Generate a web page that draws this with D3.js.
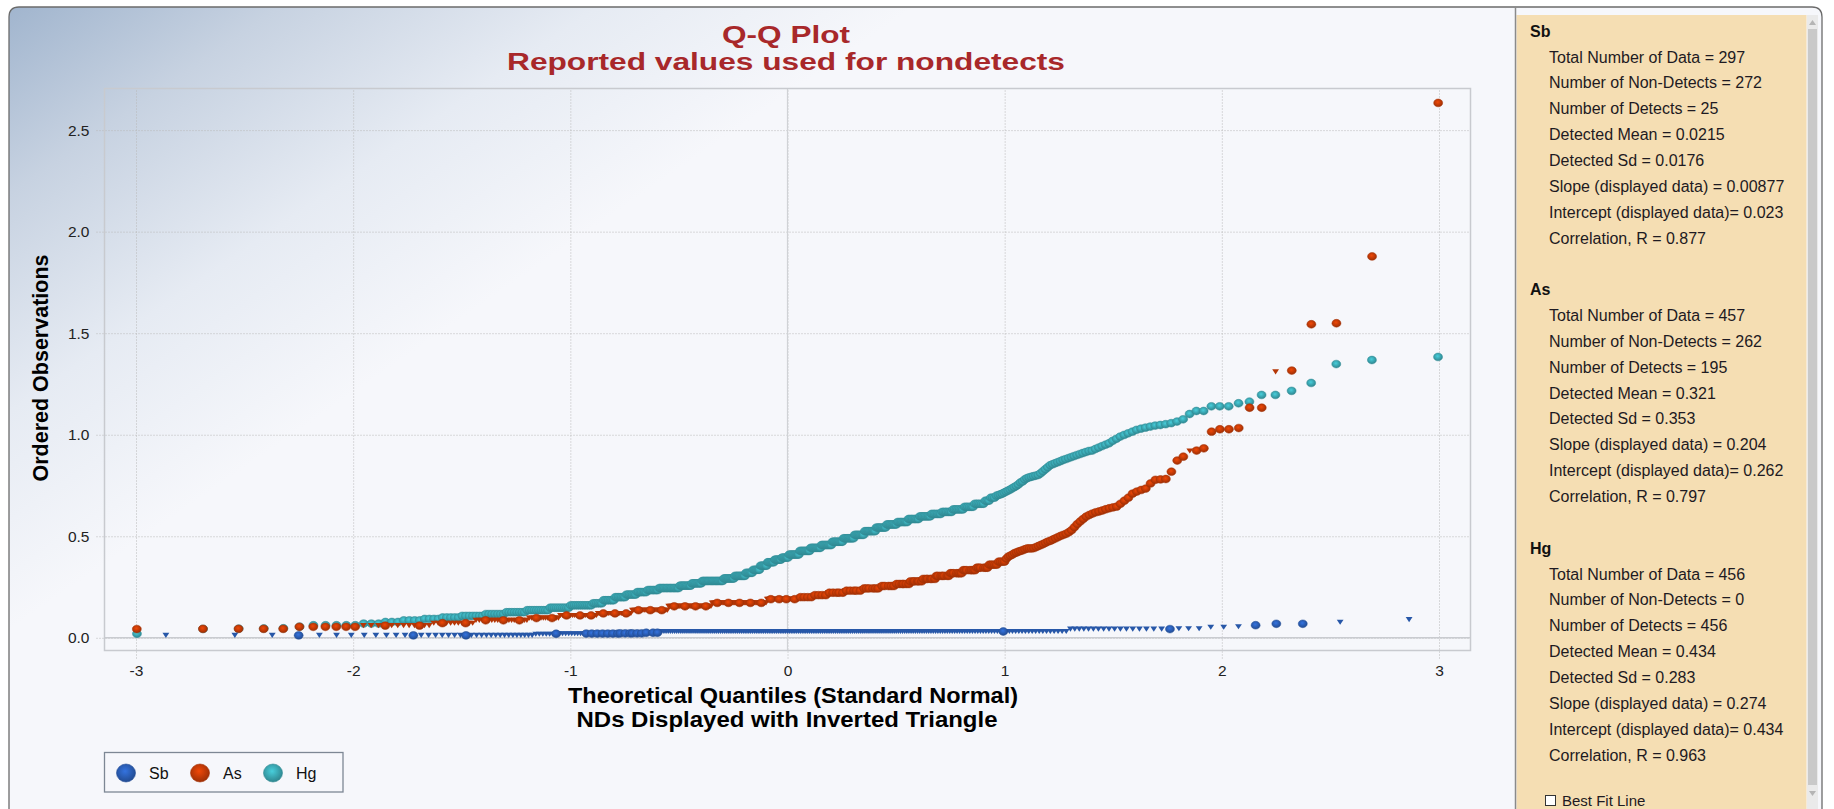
<!DOCTYPE html>
<html>
<head>
<meta charset="utf-8">
<script src="https://cdn.jsdelivr.net/npm/d3@7"></script>
<style>
  body { margin: 0; background: #ffffff; }
  svg text { font-family: "Liberation Sans", Arial, sans-serif; }
</style>
</head>
<body>
<svg id="chart" width="1834" height="809"></svg>
<script>
// ---- data: ordered observations ----
// each run is [value, number of nondetects, number of detects]
var sbRuns = [
    [0.012, 3, 0], [0.012, 0, 1], [0.012, 8, 0], [0.012, 0, 1], [0.012, 7, 0], [0.012, 0, 1], [0.012, 15, 0],
    [0.018, 6, 0], [0.020, 0, 1], [0.020, 9, 0],
    [0.021, 6, 7], [0.022, 4, 6], [0.025, 5, 3],
    [0.031, 166, 0], [0.031, 0, 1], [0.031, 18, 0],
    [0.043, 17, 0], [0.043, 0, 1], [0.045, 3, 0], [0.052, 2, 0], [0.055, 1, 0],
    [0.062, 0, 1], [0.069, 0, 2], [0.077, 1, 0], [0.090, 1, 0]
];

var asRuns = [
    [0.043, 0, 1], [0.044, 0, 4], [0.054, 0, 6],
    [0.060, 10, 2], [0.072, 9, 2], [0.086, 16, 3], [0.097, 12, 2], [0.110, 17, 3],
    [0.120, 18, 3], [0.136, 22, 3], [0.155, 29, 4], [0.172, 40, 5], [0.190, 23, 4],
    [0.200, 8, 4], [0.210, 8, 4], [0.222, 9, 5], [0.232, 9, 5], [0.243, 8, 6],
    [0.255, 7, 5], [0.265, 4, 6], [0.278, 3, 6], [0.290, 3, 6], [0.305, 2, 7],
    [0.318, 1, 7], [0.333, 1, 7], [0.345, 1, 6], [0.360, 0, 5], [0.375, 0, 4],
    // upper tail, one value per run
    [0.39, 0, 1], [0.40, 0, 1], [0.405, 0, 1], [0.41, 0, 1], [0.417, 0, 1], [0.42, 0, 1],
    [0.425, 0, 1], [0.428, 0, 1], [0.432, 0, 1], [0.436, 0, 1], [0.44, 0, 3], [0.442, 0, 1],
    [0.447, 0, 1], [0.452, 0, 1], [0.457, 0, 1], [0.462, 0, 1], [0.468, 0, 1], [0.474, 0, 1],
    [0.478, 0, 1], [0.484, 0, 1], [0.49, 0, 1], [0.496, 0, 1], [0.502, 0, 1], [0.507, 0, 1],
    [0.512, 0, 1], [0.52, 0, 1], [0.53, 0, 1], [0.545, 0, 1], [0.56, 0, 1], [0.573, 0, 1],
    [0.585, 0, 1], [0.597, 0, 1], [0.605, 0, 1], [0.612, 0, 1], [0.618, 0, 1], [0.622, 0, 1],
    [0.627, 0, 1], [0.633, 0, 1], [0.638, 0, 1], [0.642, 0, 1], [0.646, 0, 1], [0.66, 0, 1],
    [0.675, 0, 1], [0.69, 0, 1], [0.71, 0, 1], [0.72, 0, 1], [0.728, 0, 1], [0.735, 0, 1],
    [0.76, 0, 1], [0.778, 0, 1], [0.78, 0, 1], [0.782, 0, 1], [0.818, 0, 1], [0.873, 0, 1],
    [0.892, 0, 1], [0.92, 1, 0], [0.922, 0, 1], [0.933, 0, 1], [1.015, 0, 1], [1.027, 0, 2],
    [1.033, 0, 1], [1.133, 0, 2], [1.31, 1, 0], [1.316, 0, 1], [1.544, 0, 1], [1.549, 0, 1],
    [1.878, 0, 1], [2.634, 0, 1]
];

var hgRuns = [
    [0.02, 0, 1], [0.044, 0, 1], [0.045, 0, 1], [0.046, 0, 1], [0.047, 0, 1], [0.055, 0, 1],
    [0.062, 0, 5], [0.070, 0, 3], [0.078, 0, 3], [0.086, 0, 4], [0.093, 0, 4], [0.1, 0, 5],
    [0.108, 0, 7], [0.117, 0, 7], [0.126, 0, 8], [0.136, 0, 10], [0.148, 0, 10], [0.16, 0, 12],
    [0.17, 0, 6], [0.185, 0, 7], [0.2, 0, 7], [0.213, 0, 7], [0.225, 0, 7], [0.235, 0, 8],
    [0.245, 0, 15], [0.257, 0, 9], [0.268, 0, 8], [0.28, 0, 17], [0.292, 0, 9], [0.305, 0, 9],
    [0.32, 0, 6], [0.335, 0, 6], [0.355, 0, 6], [0.372, 0, 6], [0.385, 0, 6], [0.395, 0, 6],
    [0.41, 0, 9], [0.428, 0, 9], [0.443, 0, 9], [0.457, 0, 9], [0.473, 0, 9], [0.49, 0, 9],
    [0.507, 0, 8], [0.525, 0, 9], [0.543, 0, 8], [0.558, 0, 8], [0.57, 0, 8], [0.585, 0, 8],
    [0.598, 0, 8], [0.61, 0, 7], [0.62, 0, 7], [0.632, 0, 7], [0.645, 0, 6], [0.66, 0, 6],
    [0.675, 0, 3], [0.69, 0, 3]
];
var hgTail = [
    0.70, 0.703, 0.706, 0.71, 0.715, 0.72, 0.725, 0.73, 0.736, 0.742,
    0.748, 0.755, 0.765, 0.77, 0.78, 0.786, 0.79, 0.793, 0.796, 0.799,
    0.802, 0.81, 0.82, 0.83, 0.84, 0.85, 0.855, 0.86, 0.865, 0.87,
    0.876, 0.88, 0.885, 0.89, 0.895, 0.90, 0.905, 0.91, 0.915, 0.92,
    0.922, 0.93, 0.937, 0.944, 0.951, 0.958, 0.97, 0.98, 0.991, 0.999,
    1.007, 1.015, 1.024, 1.03, 1.035, 1.04, 1.045, 1.048, 1.052, 1.057,
    1.065, 1.076, 1.102, 1.117, 1.117, 1.14, 1.14, 1.14, 1.155, 1.163,
    1.196, 1.196, 1.216, 1.255, 1.348, 1.368, 1.383
];

var seriesNames = ["Sb", "As", "Hg"];
var seriesColors = { Sb: "#2a5db4", As: "#c23a06", Hg: "#3aa6b1" };
var xTicks = [-3, -2, -1, 0, 1, 2, 3];
var yTicks = [0, 0.5, 1.0, 1.5, 2.0, 2.5];

var titleLines = ["Q-Q Plot", "Reported values used for nondetects"];
var xTitleLines = ["Theoretical Quantiles (Standard Normal)", "NDs Displayed with Inverted Triangle"];
var yTitle = "Ordered Observations";

var statBlocks = [
    { name: "Sb", lines: ["Total Number of Data = 297", "Number of Non-Detects = 272", "Number of Detects = 25",
        "Detected Mean = 0.0215", "Detected Sd = 0.0176", "Slope (displayed data) = 0.00877",
        "Intercept (displayed data)= 0.023", "Correlation, R = 0.877"] },
    { name: "As", lines: ["Total Number of Data = 457", "Number of Non-Detects = 262", "Number of Detects = 195",
        "Detected Mean = 0.321", "Detected Sd = 0.353", "Slope (displayed data) = 0.204",
        "Intercept (displayed data)= 0.262", "Correlation, R = 0.797"] },
    { name: "Hg", lines: ["Total Number of Data = 456", "Number of Non-Detects = 0", "Number of Detects = 456",
        "Detected Mean = 0.434", "Detected Sd = 0.283", "Slope (displayed data) = 0.274",
        "Intercept (displayed data)= 0.434", "Correlation, R = 0.963"] }
];

// ---- helpers ----
// inverse standard normal cdf (Acklam)
function qnorm(p) {
    var a = [-3.969683028665376e+01, 2.209460984245205e+02, -2.759285104469687e+02, 1.383577518672690e+02, -3.066479806614716e+01, 2.506628277459239e+00];
    var b = [-5.447609879822406e+01, 1.615858368580409e+02, -1.556989798598866e+02, 6.680131188771972e+01, -1.328068155288572e+01];
    var c = [-7.784894002430293e-03, -3.223964580411365e-01, -2.400758277161838e+00, -2.549732539343734e+00, 4.374664141464968e+00, 2.938163982698783e+00];
    var d = [7.784695709041462e-03, 3.224671290700398e-01, 2.445134137142996e+00, 3.754408661907416e+00];
    var q, r;
    if (p < 0.02425) {
        q = Math.sqrt(-2 * Math.log(p));
        return (((((c[0]*q+c[1])*q+c[2])*q+c[3])*q+c[4])*q+c[5]) / ((((d[0]*q+d[1])*q+d[2])*q+d[3])*q+1);
    }
    if (p > 1 - 0.02425) {
        q = Math.sqrt(-2 * Math.log(1 - p));
        return -(((((c[0]*q+c[1])*q+c[2])*q+c[3])*q+c[4])*q+c[5]) / ((((d[0]*q+d[1])*q+d[2])*q+d[3])*q+1);
    }
    q = p - 0.5; r = q * q;
    return (((((a[0]*r+a[1])*r+a[2])*r+a[3])*r+a[4])*r+a[5])*q / (((((b[0]*r+b[1])*r+b[2])*r+b[3])*r+b[4])*r+1);
}

// expand runs to ordered points, Blom plotting positions for the x value
function expandRuns(runs, series) {
    var pts = [];
    runs.forEach(function(run) {
        var v = run[0], nd = run[1], det = run[2], m = nd + det;
        var detPos = {};
        for (var k = 0; k < det; ++k) { detPos[Math.round((k + 0.5) * m / det - 0.5)] = true; }
        for (var j = 0; j < m; ++j) { pts.push({ v: v, nd: !detPos[j], series: series }); }
    });
    var n = pts.length;
    pts.forEach(function(p, i) { p.q = qnorm((i + 1 - 0.375) / (n + 0.25)); });
    return pts;
}

var data = {
    Sb: expandRuns(sbRuns, "Sb"),
    As: expandRuns(asRuns, "As"),
    Hg: expandRuns(hgRuns.concat(hgTail.map(function(v) { return [v, 0, 1]; })), "Hg")
};

// ---- layout ----
var plot = { left: 104.5, right: 1470.5, top: 88.5, bottom: 650.5 };
var x = d3.scaleLinear().domain([-3.145, 3.145]).range([plot.left, plot.right]);
var y = d3.scaleLinear().domain([-0.0625, 2.705]).range([plot.bottom, plot.top]);

var svg = d3.select("#chart");
var defs = svg.append("defs");

var bg = defs.append("linearGradient").attr("id", "bgGrad")
    .attr("gradientUnits", "userSpaceOnUse")
    .attr("x1", 9).attr("y1", 7).attr("x2", 300).attr("y2", 430);
bg.append("stop").attr("offset", 0).attr("stop-color", "#a1b5ce");
bg.append("stop").attr("offset", 0.3).attr("stop-color", "#c7d2e1");
bg.append("stop").attr("offset", 0.65).attr("stop-color", "#e6ebf3");
bg.append("stop").attr("offset", 1).attr("stop-color", "#f6f7fb");

seriesNames.forEach(function(s) {
    var base = d3.color(seriesColors[s]);
    var g = defs.append("radialGradient").attr("id", "ball-" + s)
        .attr("cx", "45%").attr("cy", "40%").attr("r", "60%");
    g.append("stop").attr("offset", 0).attr("stop-color", base.brighter(0.6));
    g.append("stop").attr("offset", 0.55).attr("stop-color", base);
    g.append("stop").attr("offset", 1).attr("stop-color", base.darker(0.6));
});

// outer frame and panels
svg.append("path")
    .attr("d", "M9,812 V17 Q9,7 19,7 H1812 Q1822,7 1822,17 V812")
    .attr("fill", "url(#bgGrad)")
    .attr("stroke", "#6b6b6b").attr("stroke-width", 1.3);

svg.append("rect").attr("x", 1516.5).attr("y", 15).attr("width", 290).attr("height", 800)
    .attr("fill", "#f5deb3");
svg.append("line").attr("x1", 1515.5).attr("x2", 1515.5).attr("y1", 7).attr("y2", 809)
    .attr("stroke", "#8a8a8a").attr("stroke-width", 1.5);

// scrollbar
svg.append("rect").attr("x", 1807).attr("y", 15).attr("width", 11).attr("height", 800).attr("fill", "#eaeaea");
svg.append("rect").attr("x", 1808).attr("y", 29).attr("width", 9).attr("height", 756).attr("fill", "#c9c9c9");
svg.append("path").attr("d", "M1809,25 L1816,25 L1812.5,20 Z").attr("fill", "#b5b5b5");
svg.append("path").attr("d", "M1809,791 L1816,791 L1812.5,796 Z").attr("fill", "#b5b5b5");

// stats text
var statG = svg.append("g").attr("class", "stats");
statBlocks.forEach(function(block, bi) {
    var base = 36.7 + 25.85 * 10 * bi;
    statG.append("text").attr("x", 1530).attr("y", base)
        .attr("font-size", 16).attr("font-weight", "bold").attr("fill", "#111")
        .text(block.name);
    statG.selectAll(null).data(block.lines).enter().append("text")
        .attr("x", 1549).attr("y", function(d, i) { return base + 25.85 * (i + 1); })
        .attr("font-size", 16).attr("fill", "#1e1a22")
        .text(function(d) { return d; });
});
statG.append("rect").attr("x", 1545.5).attr("y", 795.5).attr("width", 10).attr("height", 10)
    .attr("fill", "#fff").attr("stroke", "#333");
statG.append("text").attr("x", 1562).attr("y", 806).attr("font-size", 15).attr("fill", "#1e1a22")
    .text("Best Fit Line");

// ---- axes and grid ----
var fmtX = function(d) { return String(d); };   // plain hyphen minus, like the original
var yAxis = d3.axisLeft(y).tickValues(yTicks).tickFormat(d3.format(".1f"))
    .tickSize(-(plot.right - plot.left + 8)).tickPadding(7);
var gy = svg.append("g").attr("transform", "translate(" + (plot.left - 8) + ",0)").call(yAxis);

var xAxis = d3.axisBottom(x).tickValues(xTicks).tickFormat(fmtX)
    .tickSize(-(plot.bottom - plot.top + 8)).tickPadding(6);
var gx = svg.append("g").attr("transform", "translate(0," + (plot.bottom + 8) + ")").call(xAxis);

[gx, gy].forEach(function(g) {
    g.select(".domain").remove();
    g.selectAll(".tick line").attr("stroke", "#b9b9b9").attr("stroke-dasharray", "1,2");
    g.selectAll(".tick text").attr("font-size", 15.5).attr("fill", "#222")
        .attr("font-family", "Liberation Sans, Arial, sans-serif");
});

// solid zero lines and plot frame
svg.append("line").attr("x1", plot.left).attr("x2", plot.right).attr("y1", y(0)).attr("y2", y(0))
    .attr("stroke", "#c9cbd0").attr("stroke-width", 1.5);
svg.append("line").attr("x1", x(0)).attr("x2", x(0)).attr("y1", plot.top).attr("y2", plot.bottom)
    .attr("stroke", "#d0d2d6").attr("stroke-width", 1.2);
svg.append("rect").attr("x", plot.left).attr("y", plot.top)
    .attr("width", plot.right - plot.left).attr("height", plot.bottom - plot.top)
    .attr("fill", "none").attr("stroke", "#c8cacf").attr("stroke-width", 1.5);

// ---- points ----
var tri = "M-3.4,-2.5L3.4,-2.5L0,2.6Z";
var drawOrder = ["Hg", "As", "Sb"];
var pg = svg.append("g").attr("class", "points");
drawOrder.forEach(function(s) {
    var g = pg.append("g").attr("class", "series-" + s);
    var col = seriesColors[s];
    g.selectAll("path.nd").data(data[s].filter(function(d) { return d.nd; }))
        .enter().append("path").attr("class", "nd")
        .attr("d", tri)
        .attr("transform", function(d) { return "translate(" + x(d.q) + "," + y(d.v) + ")"; })
        .attr("fill", d3.color(col).darker(0.2));
    g.selectAll("ellipse.det").data(data[s].filter(function(d) { return !d.nd; }))
        .enter().append("ellipse").attr("class", "det")
        .attr("cx", function(d) { return x(d.q); })
        .attr("cy", function(d) { return y(d.v); })
        .attr("rx", 4.5).attr("ry", 3.9)
        .attr("fill", "url(#ball-" + s + ")")
        .attr("stroke", d3.color(col).darker(0.5)).attr("stroke-width", 0.5);
});

// ---- titles ----
var titleColor = "#a8282a";
svg.append("text").attr("x", 786).attr("y", 43).attr("text-anchor", "middle")
    .attr("font-size", 24).attr("font-weight", "bold").attr("fill", titleColor)
    .attr("textLength", 128).attr("lengthAdjust", "spacingAndGlyphs")
    .text(titleLines[0]);
svg.append("text").attr("x", 786).attr("y", 70).attr("text-anchor", "middle")
    .attr("font-size", 24).attr("font-weight", "bold").attr("fill", titleColor)
    .attr("textLength", 558).attr("lengthAdjust", "spacingAndGlyphs")
    .text(titleLines[1]);

svg.append("text").attr("x", 793).attr("y", 703).attr("text-anchor", "middle")
    .attr("font-size", 21.5).attr("font-weight", "bold").attr("fill", "#000")
    .attr("textLength", 450).attr("lengthAdjust", "spacingAndGlyphs")
    .text(xTitleLines[0]);
svg.append("text").attr("x", 787).attr("y", 726.5).attr("text-anchor", "middle")
    .attr("font-size", 21.5).attr("font-weight", "bold").attr("fill", "#000")
    .attr("textLength", 421).attr("lengthAdjust", "spacingAndGlyphs")
    .text(xTitleLines[1]);

svg.append("text").attr("transform", "translate(48,368) rotate(-90)").attr("text-anchor", "middle")
    .attr("font-size", 21.5).attr("font-weight", "bold").attr("fill", "#000")
    .attr("textLength", 227).attr("lengthAdjust", "spacingAndGlyphs")
    .text(yTitle);

// ---- legend ----
var lg = svg.append("g").attr("class", "legend");
lg.append("rect").attr("x", 104.5).attr("y", 752.5).attr("width", 238.5).attr("height", 39.5)
    .attr("fill", "none").attr("stroke", "#7d8794").attr("stroke-width", 1.3);
var legendX = [126, 200, 273];
seriesNames.forEach(function(s, i) {
    lg.append("ellipse").attr("cx", legendX[i]).attr("cy", 773).attr("rx", 9.5).attr("ry", 9)
        .attr("fill", "url(#ball-" + s + ")")
        .attr("stroke", d3.color(seriesColors[s]).darker(0.5)).attr("stroke-width", 0.6);
    lg.append("text").attr("x", legendX[i] + 23).attr("y", 779).attr("font-size", 16)
        .attr("fill", "#111").text(s);
});
</script>
</body>
</html>
